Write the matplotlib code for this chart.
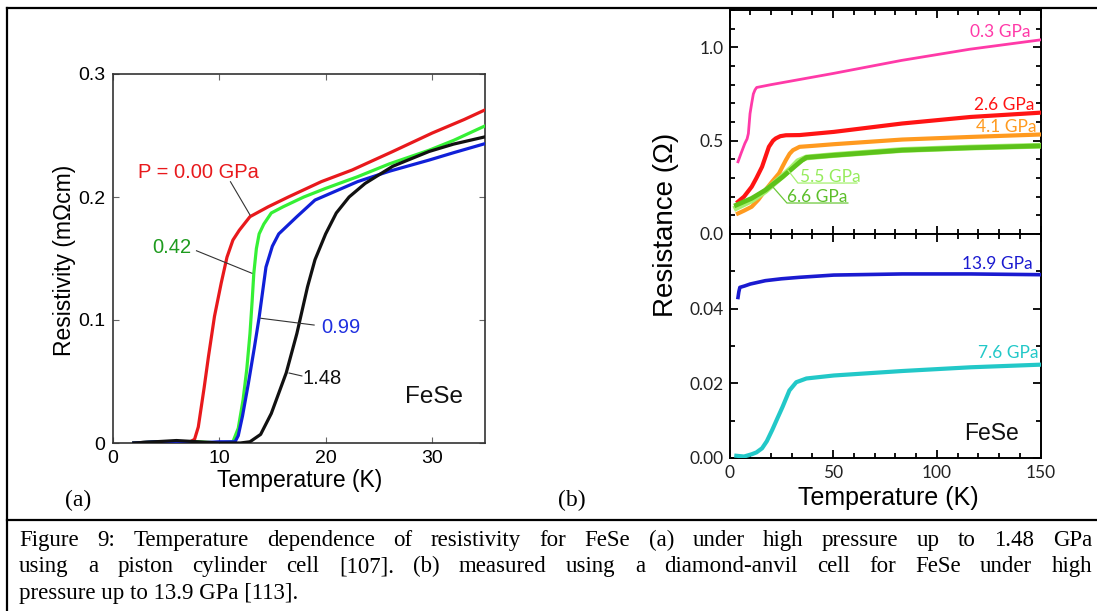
import matplotlib
matplotlib.use("Agg")
import matplotlib.pyplot as plt
from matplotlib.lines import Line2D
from matplotlib.ticker import MultipleLocator, FixedLocator, FuncFormatter

# ---------------- data: panel (a) resistivity (mOhm cm) vs T (K) ----------------
a_T_000 = [2, 4, 6, 7.3, 7.7, 8.05, 8.6, 9.0, 9.57, 10.2, 10.74, 11.3, 11.9, 12.9, 14.6, 16.5, 19.6, 22.5, 26.3, 30, 33, 35]
a_R_000 = [0, 0.001, 0.001, 0.001, 0.003, 0.013, 0.045, 0.07, 0.103, 0.13, 0.151, 0.165, 0.173, 0.184, 0.192, 0.200,
           0.2125, 0.222, 0.237, 0.252, 0.263, 0.271]
a_T_042 = [2, 4, 6, 8, 10, 11.3, 11.8, 12.25, 12.6, 12.9, 13.1, 13.26, 13.5, 13.76, 14.2, 14.9, 16, 17.95, 20, 23, 26,
           29.7, 32, 35]
a_R_042 = [0, 0.001, 0, 0.001, 0, 0.001, 0.012, 0.035, 0.06, 0.089, 0.115, 0.138, 0.158, 0.17, 0.178, 0.187, 0.192,
           0.2, 0.207, 0.2165, 0.227, 0.238, 0.246, 0.258]
a_T_099 = [2, 4, 6, 8, 10, 11.5, 11.8, 12.2, 12.74, 13.3, 13.75, 14.4, 15, 15.6, 17.3, 19, 23, 26, 29.7, 32, 35]
a_R_099 = [0, 0.001, 0.001, 0, 0.001, 0.001, 0.006, 0.022, 0.048, 0.077, 0.1016, 0.143, 0.160, 0.170, 0.184, 0.1975,
           0.2125, 0.221, 0.230, 0.236, 0.2435]
a_T_148 = [2, 4, 6, 8, 10, 12, 12.9, 13.9, 14.9, 16.3, 17.3, 18.3, 19.0, 20.0, 21.0, 22.2, 23.7, 26.3, 29.7, 32, 35]
a_R_148 = [0, 0.001, 0.002, 0.001, 0, 0, 0.001, 0.007, 0.024, 0.057, 0.089, 0.127, 0.149, 0.17, 0.187, 0.2, 0.211,
           0.225, 0.237, 0.243, 0.249]

# ---------------- data: panel (b) resistance (Ohm) vs T (K) ----------------
b_T_03 = [4.1, 5.5, 7.4, 8.5, 9.1, 9.9, 10.7, 11.5, 12.3, 13.1, 20, 50, 83, 116, 150]
b_R_03 = [0.387, 0.43, 0.485, 0.51, 0.538, 0.645, 0.70, 0.75, 0.772, 0.785, 0.80, 0.86, 0.93, 0.99, 1.04]
b_T_26 = [4.1, 7, 10.7, 13, 15.7, 19, 21, 22.3, 24.5, 27.2, 33.8, 50.3, 83.3, 116.3, 150]
b_R_26 = [0.173, 0.20, 0.253, 0.30, 0.36, 0.467, 0.50, 0.512, 0.524, 0.529, 0.530, 0.547, 0.592, 0.627, 0.65]
b_T_41 = [4.1, 7, 10.7, 14, 17.3, 20.5, 23.9, 25.5, 27.2, 29, 30.6, 33.8, 40, 50.3, 83.3, 116.3, 150]
b_R_41 = [0.11, 0.125, 0.146, 0.185, 0.235, 0.28, 0.325, 0.36, 0.396, 0.43, 0.449, 0.467, 0.472, 0.481, 0.506, 0.52,
          0.533]
b_T_55 = [3.3, 10.7, 17.3, 25.6, 30, 33, 37.1, 50.3, 83.3, 116.3, 150]
b_R_55 = [0.14, 0.18, 0.23, 0.31, 0.355, 0.39, 0.41, 0.423, 0.45, 0.463, 0.473]
b_T_66 = [3.3, 10.7, 17.3, 25.6, 32.2, 35, 37.1, 50.3, 83.3, 116.3, 150]
b_R_66 = [0.155, 0.191, 0.235, 0.306, 0.369, 0.395, 0.41, 0.422, 0.449, 0.462, 0.472]
b_T_139 = [4.1, 4.5, 5, 7.4, 10, 17.3, 25, 33.8, 50.3, 83.3, 116.3, 150]
b_R_139 = [0.043, 0.0445, 0.0457, 0.0461, 0.0466, 0.0475, 0.048, 0.0484, 0.049, 0.0493, 0.0493, 0.0491]
b_T_76 = [3.3, 7, 10.7, 13, 15.7, 18, 20.6, 23, 25.6, 28.9, 32.2, 37.1, 50.3, 83.3, 116.3, 150]
b_R_76 = [0.0006, 0.0004, 0.001, 0.0015, 0.0026, 0.0045, 0.0075, 0.0105, 0.0137, 0.0181, 0.0203, 0.0213, 0.0221,
          0.0233, 0.0243, 0.025]

a_xticks = [0, 10, 20, 30]
a_yticks = [0, 0.1, 0.2, 0.3]
b_xticks = [0, 50, 100, 150]
b_up_yticks = [0.0, 0.5, 1.0]
b_lo_yticks = [0.00, 0.02, 0.04]

caption_lines = [
    "Figure 9: Temperature dependence of resistivity for FeSe (a) under high pressure up to 1.48 GPa",
    "using a piston cylinder cell [107]. (b) measured using a diamond-anvil cell for FeSe under high",
    "pressure up to 13.9 GPa [113].",
]

W, H = 1097, 611
fig = plt.figure(figsize=(W / 100, H / 100), dpi=100)
SANS = "Liberation Sans"
SERIF = "Liberation Serif"
CAL = "Lato"


def box(l, t, r, b):
    return [l / W, 1 - b / H, (r - l) / W, (b - t) / H]


def fx(x):
    return x / W


def fy(y):
    return 1 - y / H


# ---------------- frame ----------------
for (x0, y0, x1, y1) in [(7, 8, 1097, 8), (7, 8, 7, 611), (7, 520, 1097, 520)]:
    fig.add_artist(Line2D([fx(x0), fx(x1)], [fy(y0), fy(y1)], transform=fig.transFigure, color="black", lw=1.6))

# ---------------- panel (a) ----------------
ax = fig.add_axes(box(112.5, 74, 485.5, 443))
ax.plot(a_T_000, a_R_000, color="#e8191c", lw=2.3, zorder=3)
ax.plot(a_T_042, a_R_042, color="#35f035", lw=2.3, zorder=3)
ax.plot(a_T_099, a_R_099, color="#1020d8", lw=2.3, zorder=3)
ax.plot(a_T_148, a_R_148, color="#111111", lw=2.3, zorder=3)
ax.set_xlim(0, 35)
ax.set_ylim(0, 0.3)
ax.xaxis.set_major_locator(FixedLocator(a_xticks))
ax.yaxis.set_major_locator(FixedLocator(a_yticks))
ax.yaxis.set_major_formatter(FuncFormatter(lambda v, p: "0" if v == 0 else f"{v:.1f}"))
ax.tick_params(direction="in", top=True, right=True, length=4, width=0.8, color="#666666",
               labelsize=14, pad=5)
for lab in ax.get_xticklabels() + ax.get_yticklabels():
    lab.set_family(SANS)
for s in ax.spines.values():
    s.set_linewidth(1.2)
    s.set_color("#333333")

ann_a = dict(family=SANS, fontsize=14.5, va="center")
ax.text(8.1, 0.220, "P = 0.00 GPa", color="#e8191c", ha="center", **ann_a)
ax.plot([11.07, 12.9], [0.2124, 0.1854], color="#333333", lw=0.8, zorder=4)
ax.text(5.53, 0.159, "0.42", color="#1e9b1e", ha="center", **ann_a)
ax.plot([7.88, 13.08], [0.1563, 0.138], color="#333333", lw=0.8, zorder=4)
ax.text(21.46, 0.0935, "0.99", color="#1f2fe0", ha="center", **ann_a)
ax.plot([18.92, 13.92], [0.0959, 0.1014], color="#333333", lw=0.8, zorder=4)
ax.text(19.7, 0.0528, "1.48", color="#111111", ha="center", **ann_a)
ax.plot([17.77, 16.57], [0.0545, 0.0569], color="#333333", lw=0.8, zorder=4)
ax.text(30.2, 0.0374, "FeSe", color="#111111", ha="center", family=SANS, fontsize=17.5, va="center")

fig.text(fx(300), fy(480), "Temperature (K)", family=SANS, fontsize=16.5, ha="center", va="center")
fig.text(fx(64), fy(260), "Resistivity (m\u03a9cm)", family=SANS, fontsize=16.5, ha="center", va="center",
         rotation=90)
fig.text(fx(78), fy(500), "(a)", family=SERIF, fontsize=17, ha="center", va="center")
fig.text(fx(572), fy(500), "(b)", family=SERIF, fontsize=17, ha="center", va="center")

# ---------------- panel (b) ----------------
axu = fig.add_axes(box(729.5, 10, 1040.5, 234))
axl = fig.add_axes(box(729.5, 234, 1040.5, 458))

axu.plot(b_T_03, b_R_03, color="#ff3aa8", lw=2.0, zorder=3)
axu.plot(b_T_26, b_R_26, color="#ff1414", lw=3.0, zorder=3)
axu.plot(b_T_41, b_R_41, color="#ff9a1f", lw=3.0, zorder=3)
axu.plot(b_T_55, b_R_55, color="#a6f070", lw=4.2, zorder=3)
axu.plot(b_T_66, b_R_66, color="#5cc21a", lw=3.4, zorder=4)
axl.plot(b_T_139, b_R_139, color="#1a1ad0", lw=2.6, zorder=3)
axl.plot(b_T_76, b_R_76, color="#22c8c8", lw=3.0, zorder=3)

axu.set_xlim(0, 150)
axl.set_xlim(0, 150)
axu.set_ylim(0, 1.2)
axl.set_ylim(0, 0.06)
for a in (axu, axl):
    a.xaxis.set_major_locator(FixedLocator(b_xticks))
    a.xaxis.set_minor_locator(MultipleLocator(10))
    a.tick_params(which="both", direction="in", top=True, right=True, width=1.3, color="black", pad=4)
    a.tick_params(which="major", length=6)
    a.tick_params(which="minor", length=3.5)
    for s in a.spines.values():
        s.set_linewidth(1.4)
        s.set_color("black")
axu.yaxis.set_major_locator(FixedLocator(b_up_yticks))
axu.yaxis.set_minor_locator(MultipleLocator(0.1))
axu.yaxis.set_major_formatter(FuncFormatter(lambda v, p: f"{v:.1f}"))
axu.tick_params(labelbottom=False)
axl.yaxis.set_major_locator(FixedLocator(b_lo_yticks))
axl.yaxis.set_minor_locator(MultipleLocator(0.01))
axl.yaxis.set_major_formatter(FuncFormatter(lambda v, p: f"{v:.2f}"))
axl.tick_params(axis="x", pad=5)
for a in (axu, axl):
    for lab in a.get_xticklabels() + a.get_yticklabels():
        lab.set_family(CAL)
        lab.set_fontsize(12.5)
        lab.set_color("#222222")

ann_b = dict(family=CAL, fontsize=12.5, va="center")
axu.text(145.4, 1.08, "0.3 GPa", color="#ff3aa8", ha="right", **ann_b)
axu.text(146.9, 0.69, "2.6 GPa", color="#ff1414", ha="right", **ann_b)
axu.text(147.9, 0.572, "4.1 GPa", color="#ff9a1f", ha="right", **ann_b)
axu.text(34.0, 0.305, "5.5 GPa", color="#96ec5c", ha="left", **ann_b)
axu.plot([28.2, 33.0, 61.5], [0.342, 0.273, 0.273], color="#a6f070", lw=0.9, zorder=5)
axu.text(27.7, 0.198, "6.6 GPa", color="#5cbf2a", ha="left", **ann_b)
axu.plot([21.0, 27.7, 57.1], [0.251, 0.166, 0.166], color="#6cc83a", lw=0.9, zorder=5)
axl.text(146.4, 0.052, "13.9 GPa", color="#1a1ad0", ha="right", **ann_b)
axl.text(148.8, 0.028, "7.6 GPa", color="#22c8c8", ha="right", **ann_b)
axl.text(126.6, 0.00667, "FeSe", color="#111111", ha="center", family=SANS, fontsize=16.5, va="center")

fig.text(fx(888), fy(498), "Temperature (K)", family=SANS, fontsize=18, ha="center", va="center")
fig.text(fx(666), fy(225), "Resistance (\u03a9)", family=SANS, fontsize=20, ha="center", va="center",
         rotation=90)

# ---------------- caption (justified) ----------------
renderer = fig.canvas.get_renderer()
cap_fs = 16.5
x_left, x_right = 19, 1092
baselines = [546, 572, 599]
for i, line in enumerate(caption_lines):
    words = line.split(" ")
    if i < len(caption_lines) - 1:
        texts = [fig.text(0, fy(baselines[i]), w, family=SERIF, fontsize=cap_fs, ha="left", va="baseline")
                 for w in words]
        widths = [t.get_window_extent(renderer).width for t in texts]
        gap = (x_right - x_left - sum(widths)) / (len(words) - 1)
        x = x_left
        for t, wd in zip(texts, widths):
            t.set_x(fx(x))
            x += wd + gap
    else:
        fig.text(fx(x_left), fy(baselines[i]), line, family=SERIF, fontsize=cap_fs, ha="left", va="baseline")

fig.savefig("out.png", dpi=100)
